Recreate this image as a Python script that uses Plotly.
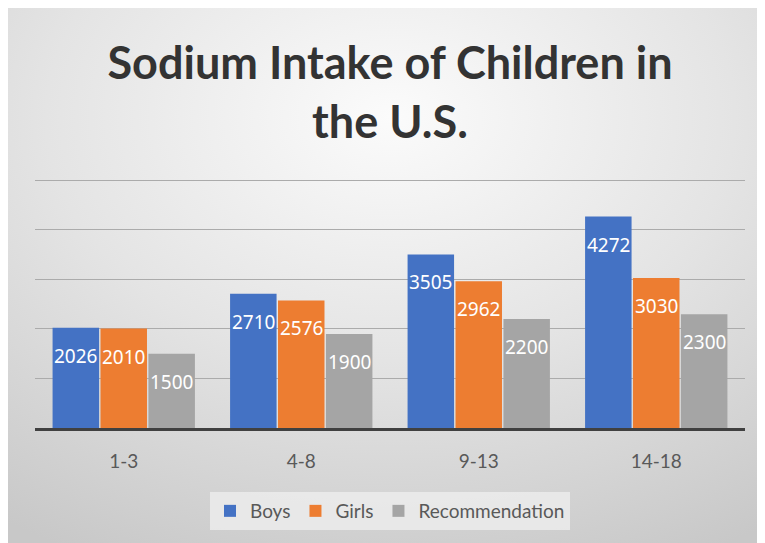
import base64
import plotly.graph_objects as go

categories = ["1-3", "4-8", "9-13", "14-18"]
boys = [2026, 2710, 3505, 4272]
girls = [2010, 2576, 2962, 3030]
recommendation = [1500, 1900, 2200, 2300]
series_names = ["Boys", "Girls", "Recommendation"]
series_colors = ["#4472C4", "#ED7D31", "#A5A5A5"]
title_text = "Sodium Intake of Children in<br>the U.S."

W, H = 765, 543
YMAX = 5050
ML, MR, MT, MB = 27, 28, 170, 123

svg = f'''<svg xmlns="http://www.w3.org/2000/svg" width="{W}" height="{H}" viewBox="0 0 {W} {H}" preserveAspectRatio="none">
<defs><radialGradient id="g" cx="0.5" cy="0.2" r="0.9" gradientUnits="objectBoundingBox">
<stop offset="0" stop-color="#fbfbfb"/><stop offset="0.5" stop-color="#e4e4e4"/><stop offset="1" stop-color="#c8c8c8"/></radialGradient></defs>
<rect x="0" y="0" width="{W}" height="{H}" fill="url(#g)"/></svg>'''
src = "data:image/svg+xml;base64," + base64.b64encode(svg.encode()).decode()

fig = go.Figure()
for name, vals, col in zip(series_names, [boys, girls, recommendation], series_colors):
    fig.add_trace(go.Bar(name=name, x=categories, y=vals, marker=dict(color=col, line=dict(width=0))))

# data labels via annotations positioned on axis scales
plot_w = W - ML - MR
plot_h = H - MT - MB
cat_w = plot_w / len(categories)
bargap = 0.19
bar_w = cat_w * (1 - bargap) / 3
annotations = []
for i, vals in enumerate([boys, girls, recommendation]):
    for c, v in zip(categories, vals):
        annotations.append(dict(
            x=c, y=v, xref="x", yref="y", text=str(v), showarrow=False,
            xshift=(i - 1) * bar_w, yshift=-28, yanchor="middle",
            font=dict(family="Noto Sans", size=19, color="white")))

fig.update_layout(
    width=W, height=H,
    margin=dict(l=ML, r=MR, t=MT, b=MB, pad=0, autoexpand=False),
    paper_bgcolor="white", plot_bgcolor="rgba(0,0,0,0)",
    barmode="group", bargap=bargap, bargroupgap=0.03,
    images=[dict(source=src, xref="paper", yref="paper", x=-ML / plot_w, y=1 + MT / plot_h,
                 sizex=W / plot_w, sizey=H / plot_h, xanchor="left", yanchor="top",
                 sizing="stretch", layer="below")],
    title=dict(text=title_text, x=0.5, xanchor="center", xref="paper", y=1 - 71 / H, yanchor="top",
               yref="container", automargin=False,
               font=dict(family="Lato", size=45, color="#333333", weight="bold")),
    xaxis=dict(showgrid=False, showline=True, linecolor="#404040", linewidth=2.5, ticks="",
               tickfont=dict(family="Lato", size=19, color="#595959"), ticklabelstandoff=14),
    yaxis=dict(range=[0, YMAX], dtick=1000, tick0=0, showticklabels=False, showgrid=True, gridcolor="#ababab",
               gridwidth=1, zeroline=False, showline=False),
    legend=dict(orientation="h", x=0.5, xanchor="center", y=-64 / plot_h, yanchor="top",
                bgcolor="rgba(238,238,238,0.8)", font=dict(family="Lato", size=19, color="#595959"),
                itemwidth=30, tracegroupgap=0),
    showlegend=True,
    annotations=annotations,
)
fig.write_html("out.html")
